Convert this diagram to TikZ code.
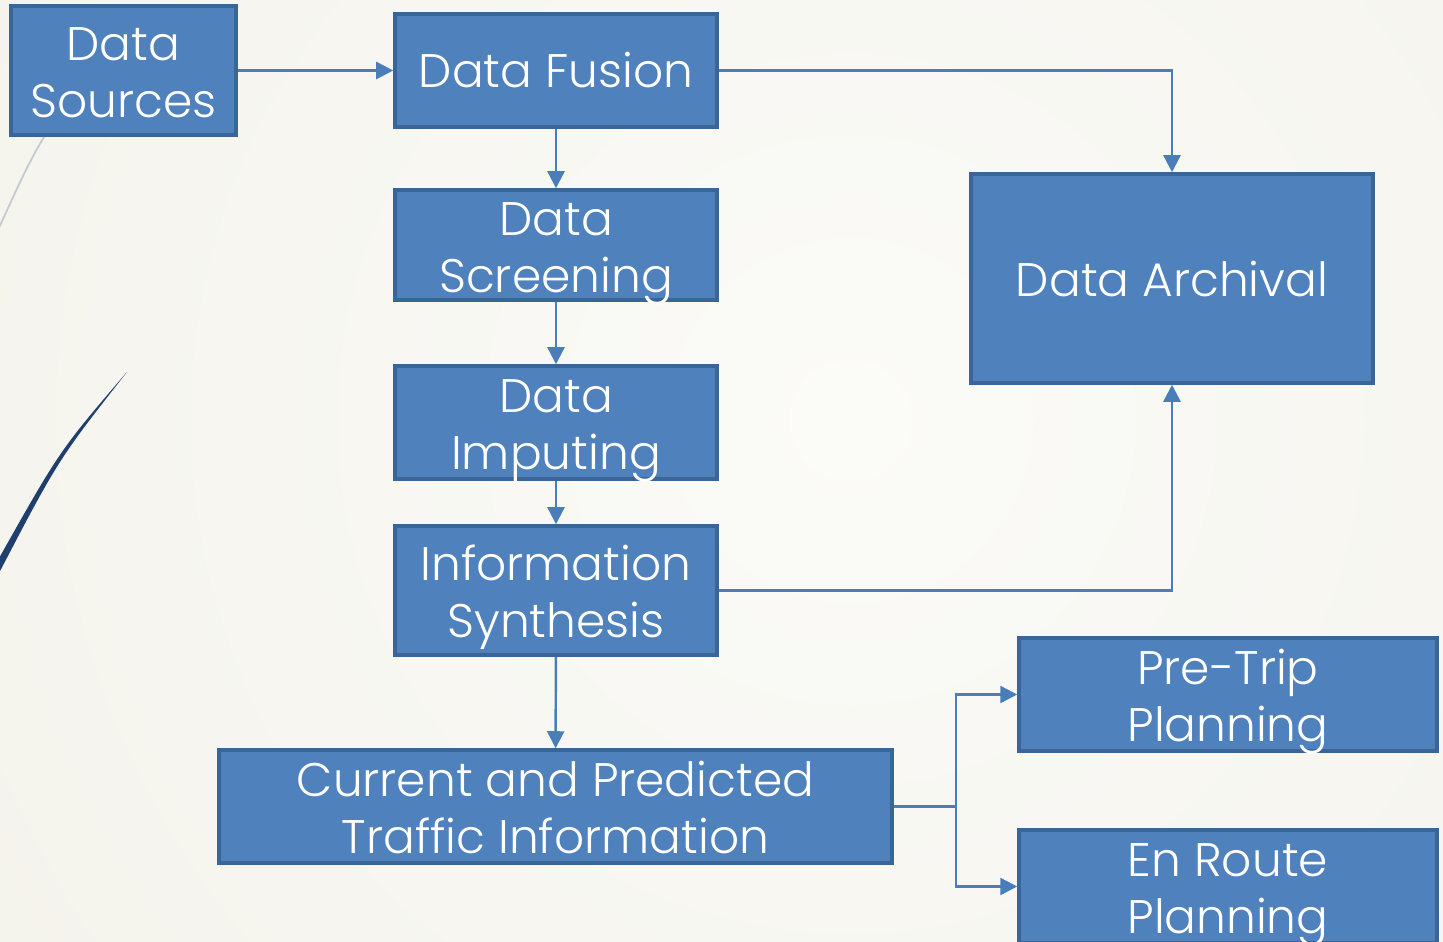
\documentclass[tikz,border=0pt]{standalone}
\usepackage{fontspec}
\setmainfont{Poppins}[UprightFont=* Light]
\usepackage{tikz}
\usetikzlibrary{arrows.meta,positioning}
\definecolor{bgin}{HTML}{FBFBF8}
\definecolor{bgout}{HTML}{ECE9DD}
\definecolor{boxfill}{HTML}{4F81BD}
\definecolor{boxline}{HTML}{3A6596}
\definecolor{link}{HTML}{4A7EBB}
\definecolor{curve}{HTML}{1F3F6E}
\definecolor{curvelight}{HTML}{C3CAD2}
\tikzset{
  stage/.style={draw=boxline, fill=boxfill, line width=1pt, text=white, align=center, inner sep=0pt, font=\fontsize{13.4}{16.2}\selectfont},
  stagetwo/.style={stage, text height=28pt, text depth=1.2pt},
  flow/.style={draw=link, line width=0.7pt, -{Triangle[length=1.7mm,width=1.7mm]}},
  feed/.style={draw=link, line width=0.7pt},
}

\begin{document}
\begin{tikzpicture}
\useasboundingbox (0,0) rectangle (14.43,-9.42);
\begin{scope}
\clip (0,0) rectangle (14.43,-9.42);
\fill[bgout] (0,0) rectangle (14.43,-9.42);
\shade[inner color=bgin, outer color=bgout] (8.5,-4.2) circle (22cm);
% slide decoration
\draw[curvelight, line width=0.5pt] (0.6,-1.1) .. controls (0.3,-1.6) .. (-0.02,-2.3);
\fill[curve] (1.27,-3.72) .. controls (0.6,-4.5) .. (-0.02,-5.6) -- (-0.02,-5.75) .. controls (0.58,-4.6) .. (1.27,-3.72);
\end{scope}

\node[stagetwo, minimum width=2.25cm, minimum height=1.29cm] (src) at (1.235,-0.705) {Data\\Sources};
\node[stage, minimum width=3.22cm, minimum height=1.13cm] (fus) at (5.56,-0.705) {Data Fusion};
\node[stagetwo, minimum width=3.22cm, minimum height=1.10cm] (scr) at (5.56,-2.45) {Data\\Screening};
\node[stagetwo, minimum width=3.22cm, minimum height=1.13cm] (imp) at (5.56,-4.225) {Data\\Imputing};
\node[stagetwo, minimum width=3.22cm, minimum height=1.29cm] (syn) at (5.56,-5.905) {Information\\Synthesis};
\node[stagetwo, minimum width=6.73cm, minimum height=1.13cm] (cur) at (5.555,-8.065) {Current and Predicted\\Traffic Information};
\node[stage, minimum width=4.02cm, minimum height=2.09cm] (arc) at (11.72,-2.785) {Data Archival};
\node[stagetwo, minimum width=4.18cm, minimum height=1.13cm] (pre) at (12.28,-6.945) {Pre-Trip\\Planning};
\node[stagetwo, minimum width=4.18cm, minimum height=1.13cm] (enr) at (12.28,-8.865) {En Route\\Planning};

\draw[flow] (src) -- (fus);
\draw[flow] (fus) -- (scr);
\draw[flow] (scr) -- (imp);
\draw[flow] (imp) -- (syn);
\draw[flow] (syn) -- (cur);
\draw[flow] (fus) -| (arc);
\draw[flow] (syn) -| (arc);
\coordinate (split) at (9.56,-8.065);
\draw[feed] (cur) -- (split);
\draw[flow] (split) |- (pre);
\draw[flow] (split) |- (enr);
\end{tikzpicture}
\end{document}
